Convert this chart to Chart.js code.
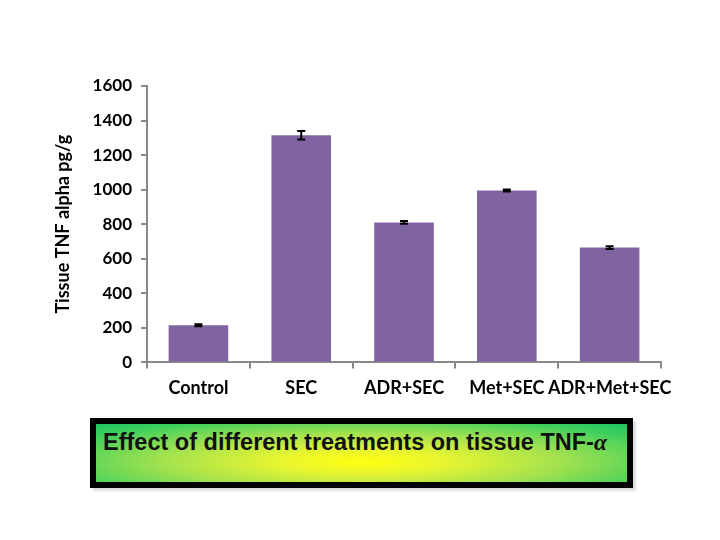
<!DOCTYPE html>
<html>
<script src="https://cdn.jsdelivr.net/npm/chart.js@4/dist/chart.umd.min.js"></script>
<style>
  body { margin: 0; background: #fff; }
  #wrap { position: relative; width: 720px; height: 540px; }
  #box {
    position: absolute; left: 90px; top: 418px; width: 524px; height: 53px;
    border: 6px solid #000;
    background: radial-gradient(ellipse at 50% 65%, #ffff10 0%, #e8f530 22%, #a6e24e 52%, #3ccf5e 85%, #1fc463 100%);
    box-shadow: 3px 3px 2px #ddd;
    font-family: "Liberation Sans", Arial, sans-serif; font-weight: bold; font-size: 23.5px;
    color: #111; padding-left: 7px; padding-top: 5px; box-sizing: content-box; white-space: nowrap;
  }
  #box span { font-family: "Liberation Serif", serif; font-style: italic; }
</style>
<body>
  <div id="wrap">
    <canvas id="myChart" width="720" height="408"></canvas>
    <div id="box">Effect of different treatments on tissue TNF-<span>α</span></div>
  </div>
  <script>
    const groups = ["Control", "SEC", "ADR+SEC", "Met+SEC", "ADR+Met+SEC"];
    const tnfValues = [215, 1315, 810, 995, 665];
    const tnfErrors = [6, 25, 8, 6, 8];
    const yTicks = [0, 200, 400, 600, 800, 1000, 1200, 1400, 1600];

    // draws the little I-shaped error bars on top of each bar
    const errorBars = {
      id: 'errorBars',
      afterDatasetsDraw(chart) {
        const ctx = chart.ctx;
        const y = chart.scales.y;
        const meta = chart.getDatasetMeta(0);
        ctx.save();
        ctx.strokeStyle = '#000';
        ctx.lineWidth = 2;
        meta.data.forEach((bar, i) => {
          const top = y.getPixelForValue(tnfValues[i] + tnfErrors[i]);
          const bot = y.getPixelForValue(tnfValues[i] - tnfErrors[i]);
          ctx.beginPath();
          ctx.moveTo(bar.x, top); ctx.lineTo(bar.x, bot);
          ctx.moveTo(bar.x - 4, top); ctx.lineTo(bar.x + 4, top);
          ctx.moveTo(bar.x - 4, bot); ctx.lineTo(bar.x + 4, bot);
          ctx.stroke();
        });
        ctx.restore();
      }
    };

    new Chart("myChart", {
      type: "bar",
      data: {
        labels: groups,
        datasets: [{
          data: tnfValues,
          backgroundColor: "#8064A2",
          barPercentage: 0.58,
          categoryPercentage: 1.0
        }]
      },
      options: {
        responsive: false,
        animation: false,
        layout: { padding: { top: 86, right: 59, left: 42 } },
        plugins: {
          legend: { display: false },
          tooltip: { enabled: false }
        },
        scales: {
          y: {
            min: 0,
            max: 1600,
            afterBuildTicks: (axis) => { axis.ticks = yTicks.map(v => ({ value: v })); },
            ticks: {
              color: "#000",
              font: { family: "Lato", size: 17, weight: "bold" },
              padding: 9,
              callback: (v) => String(v)
            },
            grid: { drawOnChartArea: false, tickLength: 6, color: "#888", lineWidth: 2 },
            border: { color: "#888", width: 2 },
            title: {
              display: true,
              text: "Tissue TNF alpha pg/g",
              color: "#000",
              font: { family: "Lato", size: 18, weight: "bold" },
              padding: 10
            }
          },
          x: {
            ticks: {
              color: "#000",
              font: { family: "Lato", size: 18, weight: "bold" },
              padding: 9,
              maxRotation: 0,
              autoSkip: false
            },
            grid: { drawOnChartArea: false, tickLength: 6, color: "#888", lineWidth: 2, offset: true },
            border: { color: "#888", width: 2 }
          }
        }
      },
      plugins: [errorBars]
    });
  </script>
</body>
</html>
